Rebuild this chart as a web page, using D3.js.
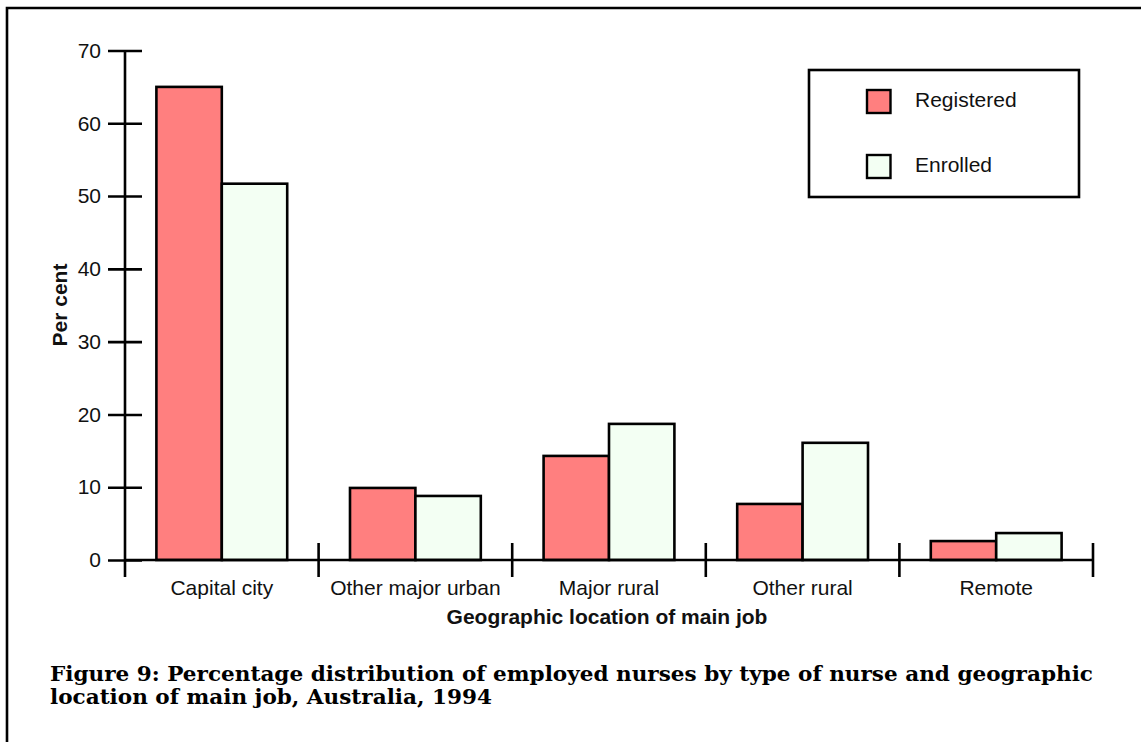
<!DOCTYPE html>
<html>
<head>
<meta charset="utf-8">
<script src="https://cdn.jsdelivr.net/npm/d3@7"></script>
<style>
  html, body { margin: 0; padding: 0; background: #fff; }
  svg { display: block; }
</style>
</head>
<body>
<svg id="chart" width="1141" height="742"></svg>
<script>
const categories = ["Capital city", "Other major urban", "Major rural", "Other rural", "Remote"];
const seriesNames = ["Registered", "Enrolled"];
const registered = [65.0, 9.9, 14.3, 7.7, 2.6];
const enrolled = [51.7, 8.8, 18.7, 16.1, 3.7];
const yTicks = [0, 10, 20, 30, 40, 50, 60, 70];
const colors = {Registered: "#ff7f7f", Enrolled: "#f3fff3"};
const captionLines = [
  "Figure 9: Percentage distribution of employed nurses by type of nurse and geographic",
  "location of main job, Australia, 1994"
];

const svg = d3.select("#chart");
const SANS = "'Liberation Sans', Arial, Helvetica, sans-serif";
const SERIF = "'DejaVu Serif', Georgia, serif";

// frame (top and left lines)
svg.append("path").attr("d", "M7,742 L7,8 L1141,8")
  .attr("fill", "none").attr("stroke", "#000").attr("stroke-width", 2.6);

const x0 = d3.scaleBand().domain(categories).range([125, 1093]).paddingInner(0).paddingOuter(0);
const x1 = d3.scaleBand().domain(seriesNames).range([0, x0.bandwidth()]).paddingInner(0).paddingOuter(0.48);
const y = d3.scaleLinear().domain([0, 70]).range([560, 50.5]);

const data = categories.map((c, i) => ({cat: c, values: [
  {s: "Registered", v: registered[i]},
  {s: "Enrolled", v: enrolled[i]}
]}));

// bars
const g = svg.append("g");
g.selectAll("g.grp").data(data).join("g").attr("class", "grp")
  .attr("transform", d => `translate(${x0(d.cat)},0)`)
  .selectAll("rect").data(d => d.values).join("rect")
  .attr("x", d => x1(d.s))
  .attr("y", d => y(d.v))
  .attr("width", x1.bandwidth())
  .attr("height", d => y(0) - y(d.v))
  .attr("fill", d => colors[d.s])
  .attr("stroke", "#000").attr("stroke-width", 2.6);

// y axis
const yAxis = svg.append("g").attr("transform", "translate(125,0)")
  .call(d3.axisLeft(y).tickValues(yTicks).tickSize(17).tickPadding(7).tickFormat(d3.format("d")));
yAxis.select(".domain").remove();
yAxis.selectAll(".tick line").attr("x1", 17).attr("stroke", "#000").attr("stroke-width", 2.6);
yAxis.selectAll(".tick text").attr("font-family", SANS).attr("font-size", 21).attr("fill", "#111");
yAxis.append("line").attr("x1", 0).attr("x2", 0).attr("y1", y(70)).attr("y2", 577)
  .attr("stroke", "#000").attr("stroke-width", 2.6);

// x axis line
svg.append("line").attr("x1", x0.range()[0]).attr("x2", x0.range()[1])
  .attr("y1", y(0)).attr("y2", y(0)).attr("stroke", "#000").attr("stroke-width", 2.6);

// category separators
const bounds = categories.map(c => x0(c)).concat([x0(categories[categories.length - 1]) + x0.bandwidth()]);
svg.append("g").selectAll("line").data(bounds.slice(1)).join("line")
  .attr("x1", d => d).attr("x2", d => d).attr("y1", 543).attr("y2", 577)
  .attr("stroke", "#000").attr("stroke-width", 2.6);

// category labels
svg.append("g").selectAll("text").data(categories).join("text")
  .attr("x", d => x0(d) + x0.bandwidth() / 2).attr("y", 595)
  .attr("text-anchor", "middle").attr("font-family", SANS).attr("font-size", 21).attr("fill", "#111")
  .text(d => d);

// axis titles
svg.append("text").attr("x", 607).attr("y", 624).attr("text-anchor", "middle")
  .attr("font-family", SANS).attr("font-weight", "bold").attr("font-size", 21).attr("fill", "#111")
  .text("Geographic location of main job");
svg.append("text").attr("transform", "translate(66.5,305) rotate(-90)").attr("text-anchor", "middle")
  .attr("font-family", SANS).attr("font-weight", "bold").attr("font-size", 21).attr("fill", "#111")
  .text("Per cent");

// legend
const lg = svg.append("g");
lg.append("rect").attr("x", 809).attr("y", 70).attr("width", 270).attr("height", 127)
  .attr("fill", "#fff").attr("stroke", "#000").attr("stroke-width", 2.6);
const legendY = d3.scalePoint().domain(seriesNames).range([90, 155]);
const li = lg.selectAll("g.li").data(seriesNames).join("g").attr("class", "li")
  .attr("transform", d => `translate(867,${legendY(d)})`);
li.append("rect").attr("width", 23.5).attr("height", 23).attr("fill", d => colors[d])
  .attr("stroke", "#000").attr("stroke-width", 2.4);
li.append("text").attr("x", 48).attr("y", 16.5).attr("font-family", SANS).attr("font-size", 21)
  .attr("fill", "#111").text(d => d);

// caption
const cap = svg.append("g");
const capTexts = cap.selectAll("text").data(captionLines).join("text")
  .attr("x", 50).attr("y", (d, i) => 681 + i * 22.6)
  .attr("font-family", SERIF).attr("font-weight", "bold").attr("font-size", 20.5).attr("fill", "#000")
  .text(d => d);
const nodes = capTexts.nodes();
const w0 = nodes[0].getComputedTextLength();
const scaleW = 1043 / w0;
nodes.forEach(nd => {
  const wl = nd.getComputedTextLength();
  d3.select(nd).attr("textLength", wl * scaleW).attr("lengthAdjust", "spacingAndGlyphs");
});
</script>
</body>
</html>
